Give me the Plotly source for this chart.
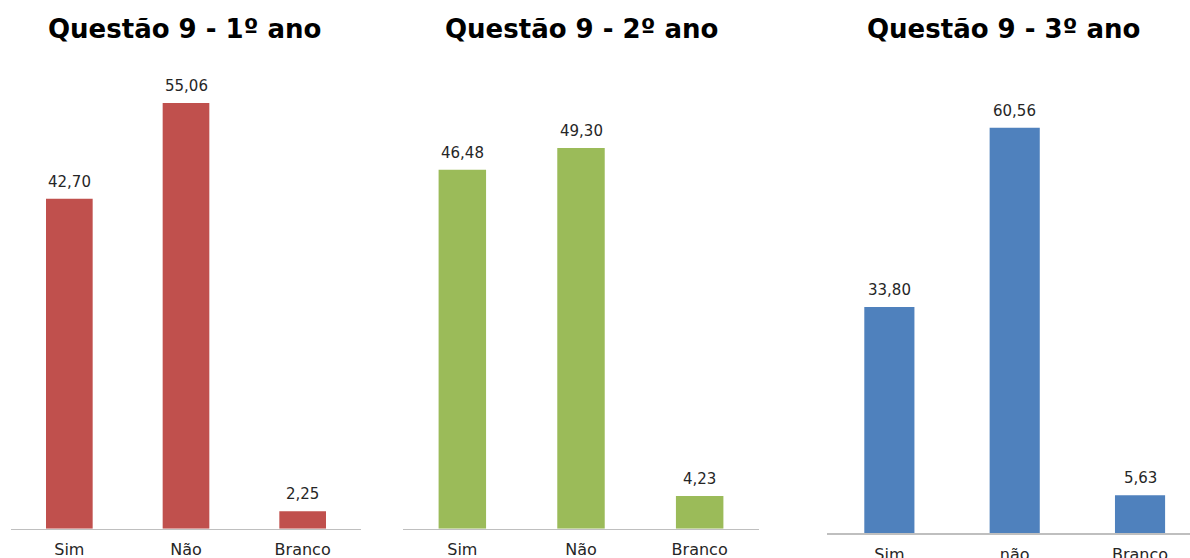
import plotly.graph_objects as go

# ---- data ----
titles = ["Questão 9 - 1º ano", "Questão 9 - 2º ano", "Questão 9 - 3º ano"]
cats_1 = ["Sim", "Não", "Branco"]
cats_2 = ["Sim", "Não", "Branco"]
cats_3 = ["Sim", "não", "Branco"]
vals_1 = [42.70, 55.06, 2.25]
vals_2 = [46.48, 49.30, 4.23]
vals_3 = [33.80, 60.56, 5.63]
colors = ["#C0504D", "#9BBB59", "#4F81BD"]

W, H = 1190, 558
# panel geometry in pixels: x-left, x-right (axis extent), baseline y, px per unit, plot top y
panels = [
    dict(x0=11, x1=361, base=528.7, ppu=7.73, top=45),
    dict(x0=403, x1=759, base=528.7, ppu=7.72, top=45),
    dict(x0=826.7, x1=1202.7, base=533.0, ppu=6.69, top=45),
]
title_x = [184, 581, 1003]

fig = go.Figure()
cats_all = [cats_1, cats_2, cats_3]
vals_all = [vals_1, vals_2, vals_3]

for i, (cats, vals, p) in enumerate(zip(cats_all, vals_all, panels)):
    n = i + 1
    xa = "x" if n == 1 else f"x{n}"
    ya = "y" if n == 1 else f"y{n}"
    fig.add_trace(go.Bar(
        x=list(range(len(cats))), y=vals, xaxis=xa, yaxis=ya,
        marker=dict(color=colors[i], line=dict(width=0)),
        width=0.4, showlegend=False, hoverinfo="skip",
    ))
    for j, v in enumerate(vals):
        fig.add_annotation(
            x=j, y=v, xref=xa, yref=ya, text=f"{v:.2f}".replace(".", ","),
            showarrow=False, yshift=17, yanchor="middle",
            font=dict(family="DejaVu Sans", size=15, color="#262626"),
        )
    cat_w = (p["x1"] - p["x0"]) / len(cats)
    right_px = min(p["x1"], W)
    xr = [-0.5, -0.5 + (right_px - p["x0"]) / cat_w]
    ymax = (p["base"] - p["top"]) / p["ppu"]
    xkey = "xaxis" if n == 1 else f"xaxis{n}"
    ykey = "yaxis" if n == 1 else f"yaxis{n}"
    fig.update_layout(**{
        xkey: dict(
            domain=[p["x0"] / W, right_px / W], anchor=ya, range=xr,
            tickmode="array", tickvals=list(range(len(cats))), ticktext=cats,
            showgrid=False, zeroline=False, showline=True, linecolor="#BFBFBF",
            linewidth=1.5, ticks="", tickfont=dict(family="DejaVu Sans", size=16, color="#262626"),
            ticklabelstandoff=6, automargin=False, fixedrange=True,
        ),
        ykey: dict(
            domain=[(H - p["base"]) / H, (H - p["top"]) / H], anchor=xa,
            range=[0, ymax], visible=False, automargin=False, fixedrange=True,
        ),
    })
    fig.add_annotation(
        x=title_x[i] / W, y=1 - 29 / H, xref="paper", yref="paper",
        text=f"<b>{titles[i]}</b>", showarrow=False, xanchor="center", yanchor="middle",
        font=dict(family="DejaVu Sans", size=26, color="#000000"),
    )

fig.update_layout(
    width=W, height=H, margin=dict(l=0, r=0, t=0, b=0, autoexpand=False),
    paper_bgcolor="white", plot_bgcolor="white", bargap=0.6,
)
css_js = (
    "var s=document.createElement('style');"
    "s.textContent='html,body{margin:0;padding:0;overflow:hidden;height:558px;width:1190px;}"
    ".plotly-graph-div{display:block;}';"
    "document.head.appendChild(s);"
)
fig.write_html("out.html", config={"displayModeBar": False, "staticPlot": True}, post_script=css_js)
